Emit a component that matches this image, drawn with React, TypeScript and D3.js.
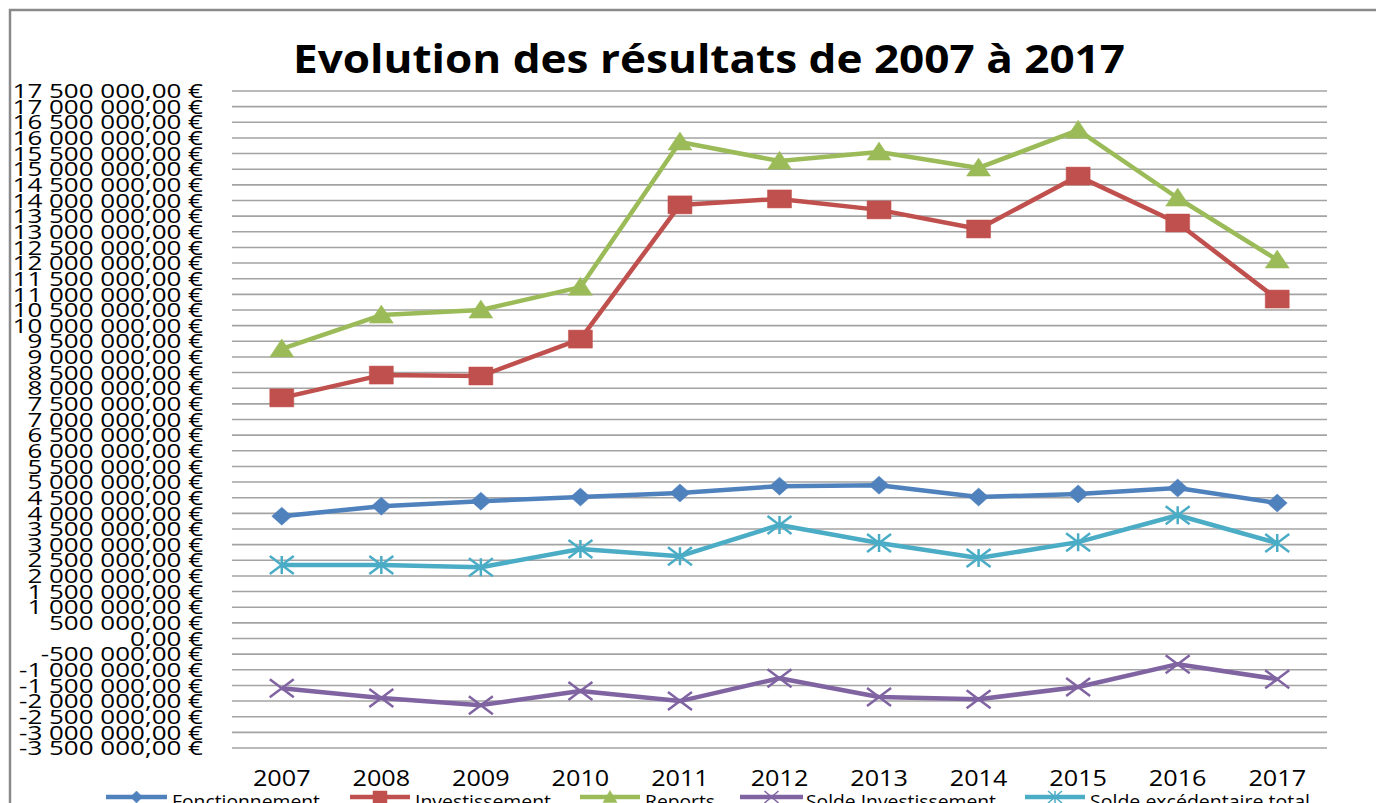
import React, { useEffect, useRef } from 'react';
import * as d3 from 'd3';

const years = ['2007', '2008', '2009', '2010', '2011', '2012', '2013', '2014', '2015', '2016', '2017'];
const fonctionnement = [3910000, 4230000, 4390000, 4520000, 4650000, 4870000, 4900000, 4520000, 4620000, 4810000, 4330000];
const investissement = [7690000, 8420000, 8390000, 9570000, 13860000, 14050000, 13700000, 13090000, 14780000, 13280000, 10850000];
const reports = [9260000, 10340000, 10500000, 11230000, 15870000, 15260000, 15550000, 15040000, 16250000, 14080000, 12100000];
const soldeInvestissement = [-1590000, -1900000, -2130000, -1680000, -2000000, -1270000, -1870000, -1940000, -1550000, -820000, -1300000];
const soldeExcedentaire = [2350000, 2350000, 2280000, 2860000, 2630000, 3630000, 3050000, 2570000, 3080000, 3940000, 3050000];
const yTicks = d3.range(-3500000, 17500001, 500000);

const series = [
  { name: 'Fonctionnement', values: fonctionnement, color: '#4F81BD', marker: 'diamond' },
  { name: 'Investissement', values: investissement, color: '#C0504D', marker: 'square' },
  { name: 'Reports', values: reports, color: '#9BBB59', marker: 'triangle' },
  { name: 'Solde Investissement', values: soldeInvestissement, color: '#8064A2', marker: 'x' },
  { name: 'Solde excédentaire total', values: soldeExcedentaire, color: '#4BACC6', marker: 'star' },
];

const FONT = '"Open Sans", "DejaVu Sans", sans-serif';

// marker shapes, drawn around 0,0 (width ~ 2*w, height ~ 2*h)
const markerPath = (kind: string, w: number, h: number) => {
  switch (kind) {
    case 'diamond':
      return `M0,${-h}L${w},0L0,${h}L${-w},0Z`;
    case 'square':
      return `M${-w},${-h}H${w}V${h}H${-w}Z`;
    case 'triangle':
      return `M0,${-h * 1.1}L${w},${h * 0.9}L${-w},${h * 0.9}Z`;
    case 'x':
      return `M${-w},${-h}L${w},${h}M${-w},${h}L${w},${-h}`;
    default:
      return `M${-w},${-h}L${w},${h}M${-w},${h}L${w},${-h}M0,${-h}V${h}`;
  }
};

const App: React.FC = () => {
  const svgRef = useRef<SVGSVGElement>(null);

  useEffect(() => {
    if (!svgRef.current) return;
    const width = 1376;
    const height = 803;
    const left = 232;
    const right = 1327;
    const top = 91;
    const bottom = 748;

    const svg = d3.select(svgRef.current);
    svg.selectAll('*').remove();
    svg.attr('width', width).attr('height', height);

    // chart border
    svg.append('rect')
      .attr('x', 10).attr('y', 10)
      .attr('width', width + 20).attr('height', height + 20)
      .attr('fill', 'white')
      .attr('stroke', '#8a8a8a')
      .attr('stroke-width', 2.5);

    const x = d3.scaleBand().domain(years).range([left, right]);
    const y = d3.scaleLinear().domain([-3500000, 17500000]).range([bottom, top]);

    const fr = d3.formatLocale({ decimal: ',', thousands: '\u00a0', grouping: [3], currency: ['', ' €'], minus: '-' });
    const fmt = (v: number) => fr.format(',.2f')(v) + ' €';

    // gridlines
    svg.append('g')
      .selectAll('line')
      .data(yTicks)
      .enter()
      .append('line')
      .attr('x1', left).attr('x2', right)
      .attr('y1', d => y(d)).attr('y2', d => y(d))
      .attr('stroke', '#a3a3a3')
      .attr('stroke-width', 1.6);

    // y labels
    svg.append('g')
      .selectAll('text')
      .data(yTicks)
      .enter()
      .append('text')
      .attr('transform', d => `translate(203,${y(d)}) scale(1.3,1)`)
      .attr('dy', '0.36em')
      .attr('text-anchor', 'end')
      .attr('font-family', FONT)
      .attr('font-size', 20)
      .attr('fill', '#000')
      .text(d => fmt(d));

    // x labels
    svg.append('g')
      .selectAll('text')
      .data(years)
      .enter()
      .append('text')
      .attr('transform', d => `translate(${x(d)! + x.bandwidth() / 2},786) scale(1.2,1)`)
      .attr('text-anchor', 'middle')
      .attr('font-family', FONT)
      .attr('font-size', 21)
      .attr('fill', '#000')
      .text(d => d);

    // lines + markers
    const line = d3.line<number>()
      .x((_, i) => x(years[i])! + x.bandwidth() / 2)
      .y(d => y(d));

    series.forEach(s => {
      const g = svg.append('g');
      g.append('path')
        .attr('d', line(s.values))
        .attr('fill', 'none')
        .attr('stroke', s.color)
        .attr('stroke-width', 4.5)
        .attr('stroke-linejoin', 'round');
      const filled = s.marker !== 'x' && s.marker !== 'star';
      g.selectAll('path.m')
        .data(s.values)
        .enter()
        .append('path')
        .attr('class', 'm')
        .attr('transform', (d, i) => `translate(${x(years[i])! + x.bandwidth() / 2},${y(d)})`)
        .attr('d', markerPath(s.marker, s.marker === 'diamond' ? 10 : 12, 9))
        .attr('fill', filled ? s.color : 'none')
        .attr('stroke', s.color)
        .attr('stroke-width', filled ? 0.5 : 2.5);
    });

    // title
    svg.append('text')
      .attr('x', 293).attr('y', 73)
      .attr('textLength', 832)
      .attr('lengthAdjust', 'spacingAndGlyphs')
      .attr('font-family', FONT)
      .attr('font-weight', 'bold')
      .attr('font-size', 39)
      .attr('fill', '#000')
      .text('Evolution des résultats de 2007 à 2017');

    // legend
    const legendPos = [
      { x1: 106, x2: 167, tx: 172, tw: 148 },
      { x1: 350, x2: 410, tx: 415, tw: 136 },
      { x1: 580, x2: 640, tx: 645, tw: 70 },
      { x1: 740, x2: 803, tx: 806, tw: 190 },
      { x1: 1025, x2: 1085, tx: 1090, tw: 220 },
    ];
    series.forEach((s, i) => {
      const p = legendPos[i];
      const g = svg.append('g');
      const cy = 797;
      g.append('line')
        .attr('x1', p.x1).attr('x2', p.x2)
        .attr('y1', cy).attr('y2', cy)
        .attr('stroke', s.color)
        .attr('stroke-width', 4.5);
      const filled = s.marker !== 'x' && s.marker !== 'star';
      g.append('path')
        .attr('transform', `translate(${(p.x1 + p.x2) / 2},${cy})`)
        .attr('d', markerPath(s.marker, s.marker === 'diamond' ? 6 : 7, 6))
        .attr('fill', filled ? s.color : 'none')
        .attr('stroke', s.color)
        .attr('stroke-width', filled ? 0.5 : 1.5);
      g.append('text')
        .attr('x', p.tx).attr('y', 808)
        .attr('textLength', p.tw)
        .attr('lengthAdjust', 'spacingAndGlyphs')
        .attr('font-family', FONT)
        .attr('font-size', 19)
        .attr('fill', '#000')
        .text(s.name);
    });
  }, []);

  return (
    <div style={{ position: 'absolute', left: 0, top: 0, width: 1376, height: 803, overflow: 'hidden', background: '#fff' }}>
      <svg ref={svgRef} style={{ display: 'block' }}></svg>
    </div>
  );
};

export default App;
